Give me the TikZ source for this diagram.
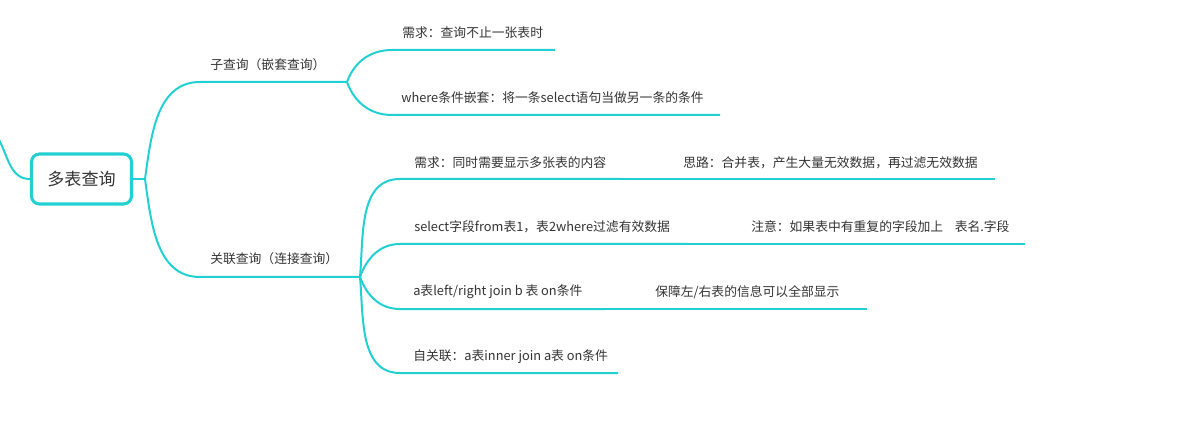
\documentclass[tikz,border=0pt]{standalone}
\usepackage{fontspec}
\setmainfont{Noto Sans CJK SC}
\usetikzlibrary{positioning}
\definecolor{branch}{HTML}{22D0D2}
\definecolor{ink}{HTML}{333333}
\tikzset{
  br/.style={draw=branch, line width=1.5pt},
  rootbox/.style={draw=branch, line width=2.3pt, rounded corners=6pt, fill=white, text=ink,
    minimum width=75pt, minimum height=37.5pt, inner sep=0pt, font=\fontsize{12.8pt}{14pt}\selectfont},
  tp/.style={anchor=west, inner sep=0pt, text=ink, font=\fontsize{9.6pt}{11pt}\selectfont},
}
\begin{document}
\begin{tikzpicture}[x=0.75pt, y=-0.75pt]
\useasboundingbox (0,0) rectangle (1188,438);
\node[rootbox] (root) at (81.5,179) {多表查询};

\coordinate (lf) at (-2,138);
\coordinate (jr) at (145,179);
\coordinate (s1a) at (200,82);
\coordinate (s1b) at (347,82);
\coordinate (s2a) at (200,277);
\coordinate (jb) at (360,277);
\coordinate (c1a) at (392,50);
\coordinate (c1b) at (555,50);
\coordinate (c2a) at (392,115);
\coordinate (c2b) at (720,115);
\coordinate (d1a) at (400,179);
\coordinate (d1m) at (620,179);
\coordinate (d1b) at (995,179);
\coordinate (d2a) at (400,244);
\coordinate (d2m) at (687,244);
\coordinate (d2b) at (1025,244);
\coordinate (d3a) at (400,309);
\coordinate (d3m) at (605,309);
\coordinate (d3b) at (867,309);
\coordinate (d4a) at (400,373);
\coordinate (d4b) at (618,373);

\node[tp] (sub) at (210,65) {子查询（嵌套查询）};
\node[tp] (need1) at (402,33) {需求：查询不止一张表时};
\node[tp] (nest) at (401,98) {where条件嵌套：将一条select语句当做另一条的条件};
\node[tp] (rel) at (210,259) {关联查询（连接查询）};
\node[tp] (need2) at (414,163) {需求：同时需要显示多张表的内容};
\node[tp] (idea) at (683,163) {思路：合并表，产生大量无效数据，再过滤无效数据};
\node[tp] (sel) at (414,227) {select字段from表1，表2where过滤有效数据};
\node[tp] (note) at (751,227) {注意：如果表中有重复的字段加上\hspace{0.9em}表名.字段};
\node[tp] (lrj) at (413,292) {a表left/right join b 表 on条件};
\node[tp] (keep) at (655,292) {保障左/右表的信息可以全部显示};
\node[tp] (self) at (413,357) {自关联：a表inner join a表 on条件};

\draw[br] (lf) to[out=-60, in=180] (root.west);
\draw[br] (root.east) -- (jr);
\draw[br] (jr) to[out=82, in=180] (s1a) -- (s1b);
\draw[br] (jr) to[out=-82, in=180] (s2a) -- (jb);
\draw[br] (s1b) to[out=70, in=180] (c1a) -- (c1b);
\draw[br] (s1b) to[out=-70, in=180] (c2a) -- (c2b);
\draw[br] (jb) to[out=85, in=180] (d1a) -- (d1m);
\draw[br] (d1m) -- (d1b);
\draw[br] (jb) to[out=70, in=180] (d2a) -- (d2m);
\draw[br] (d2m) -- (d2b);
\draw[br] (jb) to[out=-70, in=180] (d3a) -- (d3m);
\draw[br] (d3m) -- (d3b);
\draw[br] (jb) to[out=-85, in=180] (d4a) -- (d4b);
\end{tikzpicture}
\end{document}
